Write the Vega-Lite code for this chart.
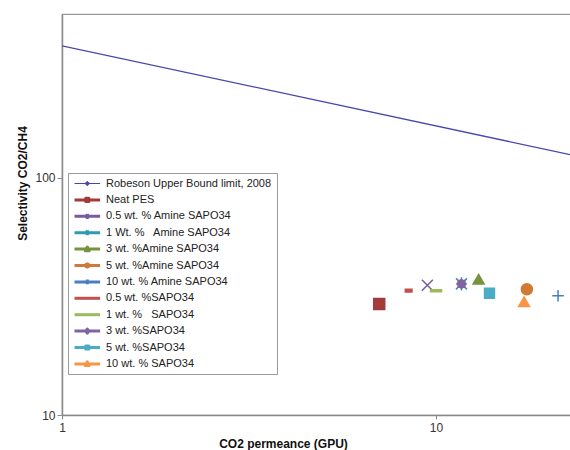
{
  "$schema": "https://vega.github.io/schema/vega-lite/v6.json",
  "width": 509,
  "height": 401,
  "autosize": "none",
  "padding": {"left": 62, "top": 14, "right": 0, "bottom": 35},
  "background": "white",
  "config": {
    "view": {"stroke": "#9a9a9a", "strokeWidth": 1.2},
    "font": "Liberation Sans",
    "axis": {
      "grid": false,
      "domainColor": "#8a8a8a",
      "domainWidth": 1.5,
      "tickColor": "#8a8a8a",
      "labelFont": "Liberation Sans",
      "labelFontSize": 12,
      "labelColor": "#333333",
      "titleFont": "Liberation Sans",
      "titleFontSize": 12,
      "titleFontWeight": "bold",
      "titleColor": "#111111"
    }
  },
  "datasets": {
    "bound": [
      {"series": "Robeson Upper Bound limit, 2008", "x": 1, "y": 360},
      {"series": "Robeson Upper Bound limit, 2008", "x": 23.2, "y": 124.5}
    ],
    "pts": [
      {"series": "Neat PES", "x": 7.05, "y": 29.4},
      {"series": "0.5 wt. %SAPO34", "x": 8.45, "y": 33.4},
      {"series": "0.5 wt. % Amine SAPO34", "x": 9.48, "y": 35.2},
      {"series": "1 wt. %\u00a0\u00a0 SAPO34", "x": 10.0, "y": 33.4},
      {"series": "1 Wt. %\u00a0\u00a0 Amine SAPO34", "x": 11.7, "y": 35.7},
      {"series": "3 wt. %SAPO34", "x": 11.7, "y": 35.7},
      {"series": "3 wt. %Amine SAPO34", "x": 13.0, "y": 37.2},
      {"series": "5 wt. %SAPO34", "x": 13.9, "y": 32.6},
      {"series": "5 wt. %Amine SAPO34", "x": 17.5, "y": 33.9},
      {"series": "10 wt. % SAPO34", "x": 17.2, "y": 29.9},
      {"series": "10 wt. % Amine SAPO34", "x": 21.2, "y": 31.8}
    ]
  },
  "encoding": {
    "x": {
      "field": "x", "type": "quantitative",
      "scale": {"type": "log", "domain": [1, 22.96], "nice": false},
      "axis": {"values": [1, 10], "title": "CO2 permeance (GPU)", "tickSize": 4, "labelPadding": 3,
               "labelFlush": false, "titleX": 221, "titleY": 28, "titleBaseline": "middle"}
    },
    "y": {
      "field": "y", "type": "quantitative",
      "scale": {"type": "log", "domain": [10, 490], "nice": false},
      "axis": {"values": [10, 100], "title": "Selectivity CO2/CH4", "tickSize": 5, "labelPadding": 2,
               "labelFlush": false, "titleX": -40, "titleY": 169, "titleBaseline": "middle"}
    },
    "color": {
      "field": "series", "type": "nominal",
      "scale": {
        "domain": [
          "Robeson Upper Bound limit, 2008", "Neat PES", "0.5 wt. % Amine SAPO34", "1 Wt. %\u00a0\u00a0 Amine SAPO34",
          "3 wt. %Amine SAPO34", "5 wt. %Amine SAPO34", "10 wt. % Amine SAPO34", "0.5 wt. %SAPO34",
          "1 wt. %\u00a0\u00a0 SAPO34", "3 wt. %SAPO34", "5 wt. %SAPO34", "10 wt. % SAPO34"
        ],
        "range": ["#4646b0", "#a33b3b", "#7a5c9e", "#2f9bb0", "#77933c", "#d07a35", "#4a7ec4", "#c0504d",
                  "#9bbb59", "#8064a2", "#4bacc6", "#f79646"]
      },
      "legend": {
        "title": null,
        "orient": "none",
        "legendX": 6,
        "legendY": 159,
        "strokeColor": "#9a9a9a",
        "fillColor": "white",
        "padding": 5,
        "labelFont": "Liberation Sans",
        "labelFontSize": 11,
        "labelColor": "#222222",
        "labelLimit": 300,
        "symbolSize": 64,
        "labelOffset": 22,
        "rowPadding": 4.4,
        "encode": {
          "symbols": {
            "update": {
              "shape": {"signal": "['M-1,0H5.4M2.2,-0.45L2.65,0L2.2,0.45L1.75,0ZM2.2,-0.8M2.2,0.8','M-1,0H5.4M1.8,-0.4H2.6V0.4H1.8ZM2.2,-0.8M2.2,0.8','M-1,0H5.4M1.75,-0.45L2.65,0.45M1.75,0.45L2.65,-0.45M2.2,-0.8M2.2,0.8','M-1,0H5.4M1.75,-0.45L2.65,0.45M1.75,0.45L2.65,-0.45M2.2,-0.6V0.6M2.2,-0.8M2.2,0.8','M-1,0H5.4M2.2,-0.5L2.7,0.4H1.7ZM2.2,-0.8M2.2,0.8','M-1,0H5.4M2.6,0L2.48,0.28L2.2,0.4L1.92,0.28L1.8,0L1.92,-0.28L2.2,-0.4L2.48,-0.28ZM2.2,-0.8M2.2,0.8','M-1,0H5.4M2.2,-0.6V0.6M2.2,-0.8M2.2,0.8','M-1,0H5.4M2.2,-0.8M2.2,0.8','M-1,0H5.4M2.2,-0.8M2.2,0.8','M-1,0H5.4M2.2,-0.5L2.4,-0.2L2.7,0L2.4,0.2L2.2,0.5L2,0.2L1.7,0L2,-0.2ZM2.2,-0.8M2.2,0.8','M-1,0H5.4M1.8,-0.4H2.6V0.4H1.8ZM2.2,-0.8M2.2,0.8','M-1,0H5.4M2.2,-0.5L2.7,0.4H1.7ZM2.2,-0.8M2.2,0.8'][datum.index]"},
              "fill": {"scale": "color", "field": "value"},
              "stroke": {"scale": "color", "field": "value"},
              "strokeWidth": {"signal": "datum.index === 0 ? 1.2 : 3"},
              "strokeJoin": {"value": "round"},
              "opacity": {"value": 1}
            }
          }
        }
      }
    }
  },
  "layer": [
    {
      "data": {"name": "bound"},
      "mark": {"type": "line", "strokeWidth": 1.3, "clip": true},
      "encoding": {}
    },
    {
      "data": {"name": "pts"},
      "mark": {"type": "point", "filled": true, "size": 121, "strokeWidth": 1.5, "opacity": 1},
      "encoding": {
        "shape": {
          "field": "series", "type": "nominal", "legend": null,
          "scale": {
            "domain": [
              "Neat PES", "0.5 wt. % Amine SAPO34", "1 Wt. %\u00a0\u00a0 Amine SAPO34",
              "3 wt. %Amine SAPO34", "5 wt. %Amine SAPO34", "10 wt. % Amine SAPO34", "0.5 wt. %SAPO34",
              "1 wt. %\u00a0\u00a0 SAPO34", "3 wt. %SAPO34", "5 wt. %SAPO34", "10 wt. % SAPO34"
            ],
            "range": [
              "M-1,-1H1V1H-1Z",
              "M-1,-1L1,1M-1,1L1,-1",
              "M-1,-1L1,1M-1,1L1,-1M0,-1.2V1.2",
              "M0,-0.95L1,0.8H-1Z",
              "circle",
              "M-1.05,0H1.05M0,-1.05V1.05",
              "M-0.6,-0.25H0.6V0.25H-0.6Z",
              "M-1,-0.2H1V0.2H-1Z",
              "M0.85,0L0.6,0.25L0.6,0.6L0.25,0.6L0,0.85L-0.25,0.6L-0.6,0.6L-0.6,0.25L-0.85,0L-0.6,-0.25L-0.6,-0.6L-0.25,-0.6L0,-0.85L0.25,-0.6L0.6,-0.6L0.6,-0.25Z",
              "M-0.9,-0.9H0.9V0.9H-0.9Z",
              "M0,-0.95L1,0.8H-1Z"
            ]
          }
        },
        "stroke": {
          "field": "series", "type": "nominal", "legend": null,
          "scale": {
            "domain": [
              "Robeson Upper Bound limit, 2008", "Neat PES", "0.5 wt. % Amine SAPO34", "1 Wt. %\u00a0\u00a0 Amine SAPO34",
              "3 wt. %Amine SAPO34", "5 wt. %Amine SAPO34", "10 wt. % Amine SAPO34", "0.5 wt. %SAPO34",
              "1 wt. %\u00a0\u00a0 SAPO34", "3 wt. %SAPO34", "5 wt. %SAPO34", "10 wt. % SAPO34"
            ],
            "range": ["#4646b0", "#a33b3b", "#7a5c9e", "#2f9bb0", "#77933c", "#d07a35", "#4a7ec4", "#c0504d",
                      "#9bbb59", "#8064a2", "#4bacc6", "#f79646"]
          }
        }
      }
    }
  ]
}
